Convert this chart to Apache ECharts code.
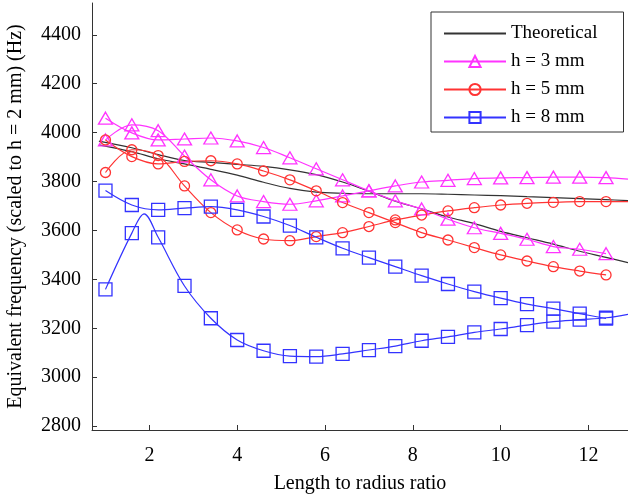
<!DOCTYPE html>
<html>
<head>
<meta charset="utf-8">
<script src="https://cdn.jsdelivr.net/npm/echarts@6/dist/echarts.min.js"></script>
<style>html,body{margin:0;padding:0;background:#fff;}#c{width:628px;height:495px;}</style>
</head>
<body>
<div id="c"></div>
<script>
// ---- data ----
const xs = [1, 1.6, 2.2, 2.8, 3.4, 4, 4.6, 5.2, 5.8, 6.4, 7, 7.6, 8.2, 8.8, 9.4, 10, 10.6, 11.2, 11.8, 12.4];
const xTicks = [2, 4, 6, 8, 10, 12];
const yTicks = [2800, 3000, 3200, 3400, 3600, 3800, 4000, 4200, 4400];

const theoryX = [0.85, 1.6, 2.2, 2.8, 3.4, 4, 4.6, 5.2, 5.8, 6.4, 7, 7.6, 8.2, 8.8, 9.4, 10, 10.6, 11.2, 11.8, 12.4, 12.9];
const theoryA = [3965, 3938, 3910, 3886, 3878, 3870, 3862, 3848, 3828, 3798, 3760, 3720, 3688, 3655, 3628, 3596, 3570, 3544, 3515, 3490, 3468];
const theoryB = [3950, 3922, 3893, 3872, 3850, 3826, 3797, 3772, 3757, 3752, 3750, 3750, 3750, 3748, 3745, 3742, 3738, 3734, 3730, 3726, 3722];

const h3a = [4059, 3999, 3970, 3974, 3978, 3966, 3939, 3897, 3852, 3807, 3762, 3721, 3688, 3646, 3611, 3588, 3564, 3534, 3523, 3505];
const h3b = [3970, 4032, 4008, 3904, 3807, 3741, 3718, 3707, 3721, 3741, 3762, 3782, 3798, 3805, 3812, 3815, 3816, 3818, 3818, 3816];
const h5a = [3970, 3902, 3872, 3882, 3885, 3872, 3843, 3807, 3762, 3714, 3673, 3632, 3591, 3561, 3530, 3500, 3475, 3452, 3434, 3418];
const h5b = [3837, 3930, 3906, 3782, 3673, 3602, 3565, 3558, 3575, 3591, 3616, 3643, 3663, 3680, 3693, 3704, 3711, 3715, 3718, 3718];
const h8a = [3763, 3704, 3684, 3691, 3697, 3684, 3657, 3620, 3572, 3527, 3489, 3452, 3415, 3381, 3350, 3323, 3299, 3280, 3260, 3240];
const h8b = [3359, 3589, 3572, 3373, 3241, 3152, 3108, 3086, 3084, 3095, 3111, 3127, 3149, 3165, 3183, 3197, 3213, 3227, 3235, 3243];

// extra curve points (fitted curve beyond / between markers)
const tailX = 12.9;
const h3bTail = 3810;
const h5bTail = 3718;
const h8bTail = 3257;
const h8bPeak = [1.88, 3668];

const FONT = 'Liberation Serif';
const cMag = '#ff33ff', cRed = '#ff3333', cBlue = '#3333ff', cBlack = '#333333';

function pts(arr) { return xs.map((x, i) => [x, arr[i]]); }
function noSym(p) { return { value: p, symbol: 'none' }; }

function curve(name, data, color, symbol, size) {
  return {
    name: name, type: 'line', data: data, smooth: 0.35,
    symbol: symbol, symbolSize: size, showSymbol: true,
    lineStyle: { color: color, width: 1.2 },
    itemStyle: { color: 'rgba(255,255,255,0)', borderColor: color, borderWidth: 1.3 },
    emphasis: { disabled: true }, z: 3
  };
}

const h8bData = pts(h8b);
h8bData.splice(2, 0, noSym(h8bPeak));

const series = [
  { name: 'Theoretical', type: 'line', data: theoryX.map((x, i) => [x, theoryA[i]]), smooth: 0.35, symbol: 'none', lineStyle: { color: cBlack, width: 1.2 }, itemStyle: { color: cBlack }, z: 2 },
  { name: 'Theoretical', type: 'line', data: theoryX.map((x, i) => [x, theoryB[i]]), smooth: 0.35, symbol: 'none', lineStyle: { color: cBlack, width: 1.2 }, itemStyle: { color: cBlack }, z: 2 },
  curve('h = 3 mm', pts(h3a), cMag, 'triangle', [14, 12]),
  curve('h = 3 mm', pts(h3b).concat([noSym([tailX, h3bTail])]), cMag, 'triangle', [14, 12]),
  curve('h = 5 mm', pts(h5a), cRed, 'circle', 10),
  curve('h = 5 mm', pts(h5b).concat([noSym([tailX, h5bTail])]), cRed, 'circle', 10),
  curve('h = 8 mm', pts(h8a), cBlue, 'rect', 13),
  curve('h = 8 mm', h8bData.concat([noSym([tailX, h8bTail])]), cBlue, 'rect', 13)
];

const chart = echarts.init(document.getElementById('c'), null, { renderer: 'canvas' });
chart.setOption({
  animation: false,
  backgroundColor: '#fff',
  textStyle: { fontFamily: FONT, color: '#000' },
  grid: { left: 92, right: 0, top: 3, bottom: 65, containLabel: false, outerBoundsMode: 'none' },
  legend: {
    data: [
      { name: 'Theoretical', itemStyle: { color: 'rgba(0,0,0,0)', borderWidth: 0 } },
      'h = 3 mm', 'h = 5 mm', 'h = 8 mm'
    ],
    orient: 'vertical', left: 431, top: 12,
    itemWidth: 62, itemHeight: 14, itemGap: 9,
    padding: [12, 26, 5, 12],
    borderColor: '#333', borderWidth: 1, backgroundColor: '#fff',
    textStyle: { fontFamily: FONT, fontSize: 19, color: '#000' },
    selectedMode: false
  },
  xAxis: {
    type: 'value', min: 0.693, max: 12.9,
    name: 'Length to radius ratio', nameLocation: 'middle', nameGap: 44,
    nameTextStyle: { fontFamily: FONT, fontSize: 20, color: '#000' },
    axisLine: { show: true, onZero: false, lineStyle: { color: '#333', width: 1 } },
    axisTick: { show: true, inside: true, length: 5, customValues: xTicks, lineStyle: { color: '#333' } },
    axisLabel: { customValues: xTicks, fontFamily: FONT, fontSize: 20, color: '#000', margin: 16, formatter: v => String(v) },
    splitLine: { show: false }
  },
  yAxis: {
    type: 'value', min: 2784, max: 4530,
    name: 'Equivalent frequency (scaled to h = 2 mm) (Hz)', nameLocation: 'middle', nameGap: 66, nameRotate: 90,
    nameTextStyle: { fontFamily: FONT, fontSize: 20, color: '#000' },
    axisLine: { show: true, onZero: false, lineStyle: { color: '#333', width: 1 } },
    axisTick: { show: true, inside: true, length: 5, customValues: yTicks, lineStyle: { color: '#333' } },
    axisLabel: { customValues: yTicks, fontFamily: FONT, fontSize: 20, color: '#000', margin: 11, formatter: v => String(v) },
    splitLine: { show: false }
  },
  series: series
});
</script>
</body>
</html>
